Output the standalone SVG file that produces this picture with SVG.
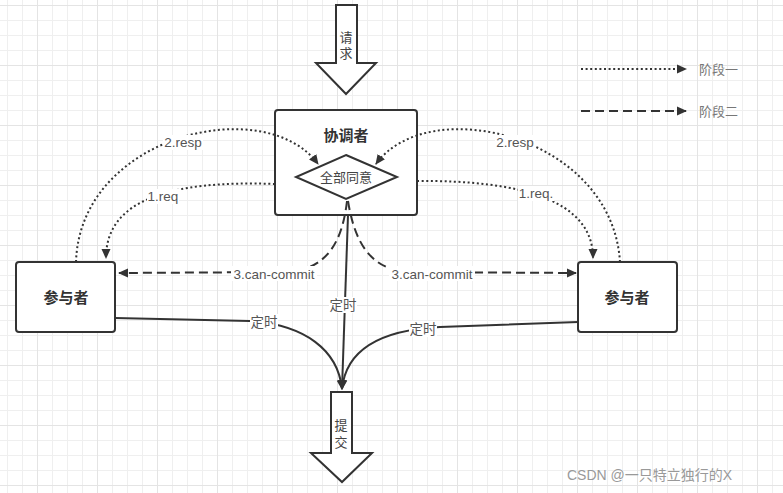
<svg xmlns="http://www.w3.org/2000/svg" width="783" height="493" viewBox="0 0 783 493">
<defs>
<pattern id="grid" width="15" height="15" patternUnits="userSpaceOnUse" x="7" y="5">
<path d="M0 0.5H15M0.5 0V15" stroke="#efefef" stroke-width="1" fill="none"/>
</pattern>
<pattern id="gridM" width="60" height="60" patternUnits="userSpaceOnUse" x="37" y="5">
<path d="M0 0.5H60M0.5 0V60" stroke="#e4e4e4" stroke-width="1" fill="none"/>
</pattern>
<marker id="ah" viewBox="0 0 10 10" refX="9" refY="5" markerWidth="10" markerHeight="10" markerUnits="userSpaceOnUse" orient="auto">
<path d="M0,0.5 L10,5 L0,9.5 z" fill="#333"/>
</marker>
</defs>
<style>
.box{fill:#fff;stroke:#333;stroke-width:2}
.blk{fill:#fff;stroke:#333;stroke-width:2;stroke-linejoin:miter}
.title{font-family:"Liberation Sans","Noto Sans CJK SC",sans-serif;font-size:15px;font-weight:bold;fill:#333;text-anchor:middle;dominant-baseline:central}
.txt{font-family:"Liberation Sans","Noto Sans CJK SC",sans-serif;font-size:13px;fill:#444;text-anchor:middle;dominant-baseline:central}
.lbl{font-family:"Liberation Sans","Noto Sans CJK SC",sans-serif;font-size:13.5px;fill:#555;text-anchor:middle;dominant-baseline:central}
.bg{fill:#fff}
.leg{font-family:"Liberation Sans","Noto Sans CJK SC",sans-serif;font-size:13px;fill:#777;dominant-baseline:central}
.dot{fill:none;stroke:#333;stroke-width:2;stroke-dasharray:2 2.6}
.dash{fill:none;stroke:#333;stroke-width:2;stroke-dasharray:9 5}
.sol{fill:none;stroke:#333;stroke-width:2}
</style>
<rect width="783" height="493" fill="#fff"/>
<rect width="783" height="493" fill="url(#grid)"/>
<rect width="783" height="493" fill="url(#gridM)"/>

<g id="request">
<polygon class="blk" points="336,5 357,5 357,63 376,63 346,94 316,63 336,63"/>
<text class="txt" x="346" y="37">请</text>
<text class="txt" x="346" y="53">求</text>
</g>

<g id="coordinator">
<rect class="box" x="275" y="110" width="142" height="105" rx="3"/>
<text class="title" x="346" y="135">协调者</text>
</g>

<g id="all-agree">
<polygon class="box" points="346,155 397,177 346,199 296,177"/>
<text class="txt" x="346" y="177">全部同意</text>
</g>

<g id="participant-left">
<rect class="box" x="16" y="262" width="99" height="70" rx="3"/>
<text class="title" x="66" y="297">参与者</text>
</g>

<g id="participant-right">
<rect class="box" x="578" y="262" width="99" height="70" rx="3"/>
<text class="title" x="627" y="297">参与者</text>
</g>

<g id="commit">
<polygon class="blk" points="331,392 352,392 352,453 372,453 342,482 311,453 331,453"/>
<text class="txt" x="341" y="425">提</text>
<text class="txt" x="341" y="442">交</text>
</g>

<g id="connectors">
<path class="dot" d="M275,184 C170,180 106,200 106,258" marker-end="url(#ah)"/>
<path class="dot" d="M76,262 C80,135 265,92 318,164" marker-end="url(#ah)"/>
<path class="dot" d="M417,181 C520,180 593,200 593,258" marker-end="url(#ah)"/>
<path class="dot" d="M620,262 C612,135 428,92 376,164" marker-end="url(#ah)"/>
<path class="dash" d="M347,201 C342,245 325,268 290,272 L119,273" marker-end="url(#ah)"/>
<path class="dash" d="M348,201 C355,245 372,268 405,272 L576,273" marker-end="url(#ah)"/>
<path class="sol" d="M348,215 L342,389" marker-end="url(#ah)"/>
<path class="sol" d="M115,318 L250,321 C305,325 338,350 342,389" marker-end="url(#ah)"/>
<path class="sol" d="M578,322 L440,327 C380,330 346,350 342,389" marker-end="url(#ah)"/>
<rect class="bg" x="147" y="189" width="32" height="15"/>
<text class="lbl" x="163" y="196">1.req</text>
<rect class="bg" x="163" y="135" width="40" height="15"/>
<text class="lbl" x="183" y="142">2.resp</text>
<rect class="bg" x="518" y="186" width="36" height="15"/>
<text class="lbl" x="536" y="193">1.req.</text>
<rect class="bg" x="495" y="135" width="40" height="15"/>
<text class="lbl" x="515" y="142">2.resp</text>
<rect class="bg" x="231" y="266" width="86" height="15"/>
<text class="lbl" x="274" y="274">3.can-commit</text>
<rect class="bg" x="389" y="266" width="86" height="15"/>
<text class="lbl" x="432" y="274">3.can-commit</text>
<rect class="bg" x="329" y="297" width="28" height="16"/>
<text class="lbl" x="343" y="305">定时</text>
<rect class="bg" x="250" y="314" width="28" height="16"/>
<text class="lbl" x="264" y="322">定时</text>
<rect class="bg" x="409" y="321" width="28" height="16"/>
<text class="lbl" x="423" y="329">定时</text>
</g>

<g id="legend">
<path class="dot" d="M581,69 L686,69" marker-end="url(#ah)"/>
<text class="leg" x="699" y="69">阶段一</text>
<path class="dash" d="M581,111 L686,111" marker-end="url(#ah)"/>
<text class="leg" x="699" y="111">阶段二</text>
</g>

<text x="567" y="475" font-family="'Liberation Sans','Noto Sans CJK SC',sans-serif" font-size="14" fill="#999" dominant-baseline="central">CSDN @一只特立独行的X</text>
</svg>
